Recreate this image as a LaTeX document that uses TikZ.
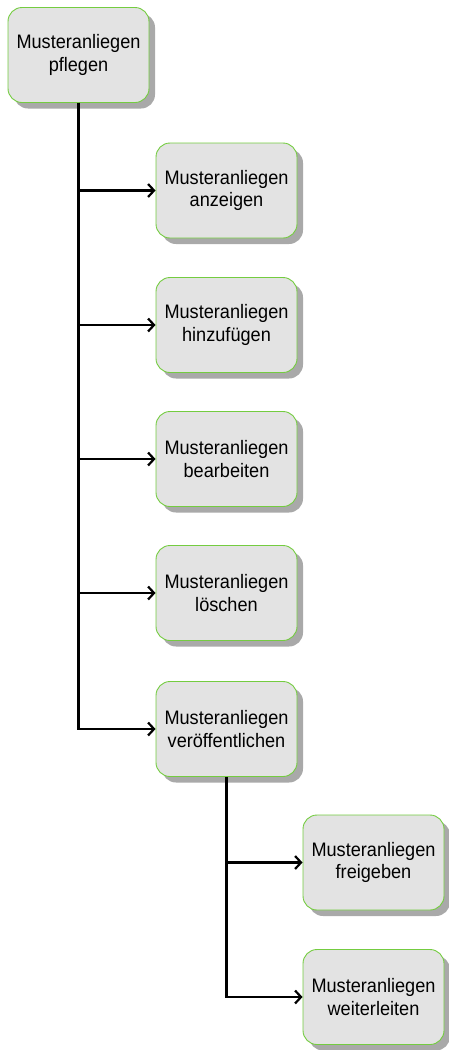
\documentclass[tikz,border=0pt]{standalone}
\usepackage{fontspec}
\setmainfont{Liberation Sans}
\newfontfamily\labelfont[FakeStretch=0.93]{Liberation Sans}
\usetikzlibrary{arrows.meta,shadows}
\definecolor{boxfill}{HTML}{E3E3E3}
\definecolor{boxline}{HTML}{74CC40}
\definecolor{shadowgray}{HTML}{A9A9A9}
\begin{document}
\begin{tikzpicture}[x=1pt,y=-1pt,
  task/.style={rectangle, rounded corners=14pt, draw=boxline, line width=0.9pt,
    fill=boxfill, minimum width=141pt, minimum height=95pt, inner sep=0pt,
    align=center, font=\labelfont\fontsize{19.5}{22.5}\selectfont,
    drop shadow={shadow xshift=6pt, shadow yshift=-6pt, fill=shadowgray, opacity=1}},
  link/.style={line width=2.6pt, black, -{Straight Barb[length=6pt,width=13pt,line width=2.2pt]}}]
\useasboundingbox (0,0) rectangle (449,1050);
\node[task] (root) at (78.5,55) {Musteranliegen\\pflegen};
\node[task] (c1) at (226.5,190.5) {Musteranliegen\\anzeigen};
\node[task] (c2) at (226.5,325) {Musteranliegen\\hinzufügen};
\node[task] (c3) at (226.5,459) {Musteranliegen\\bearbeiten};
\node[task] (c4) at (226.5,593) {Musteranliegen\\löschen};
\node[task] (c5) at (226.5,729) {Musteranliegen\\veröffentlichen};
\node[task] (g1) at (373.5,862.5) {Musteranliegen\\freigeben};
\node[task] (g2) at (373.5,997) {Musteranliegen\\weiterleiten};
\foreach \c in {c1,c2,c3,c4,c5}
  \draw[link] (root.south) |- (\c.west);
\foreach \g in {g1,g2}
  \draw[link] (c5.south) |- (\g.west);
\end{tikzpicture}
\end{document}
